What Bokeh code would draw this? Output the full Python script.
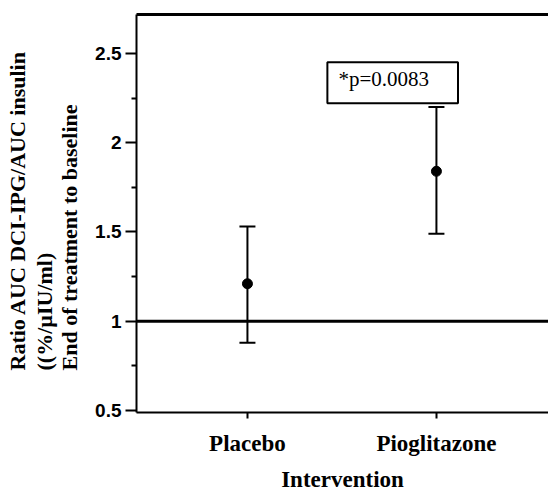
from bokeh.plotting import figure
from bokeh.models import (ColumnDataSource, Whisker, TeeHead, Span, Label, Title,
                          FixedTicker, LinearAxis, Range1d)
from bokeh.embed import file_html
from bokeh.resources import INLINE

# ---- data ----
groups = ["Placebo", "Pioglitazone"]
group_pos = [1, 2]
means = [1.21, 1.84]
lower = [0.88, 1.49]
upper = [1.53, 2.20]
y_ticks = [0.5, 1.0, 1.5, 2.0, 2.5]
y_tick_labels = ["0.5", "1", "1.5", "2", "2.5"]
y_minor = [0.75, 1.25, 1.75, 2.25]
ref_value = 1.0
p_text = "*p=0.0083"
y_title_lines = ["Ratio AUC DCI-IPG/AUC insulin", "((%/\u00b5IU/ml)", "End of treatment to baseline"]
x_title = "Intervention"

src = ColumnDataSource(dict(x=group_pos, mean=means, lo=lower, hi=upper))

p = figure(width=548, height=495, output_backend="svg", toolbar_location=None,
           x_range=Range1d(0.413, 2.593), y_range=Range1d(0.489, 2.718),
           min_border_left=135, min_border_right=0, min_border_top=14, min_border_bottom=83)
p.outline_line_color = None
p.grid.grid_line_color = None
p.background_fill_color = "white"

# x axis
xa = p.xaxis[0]
xa.ticker = FixedTicker(ticks=group_pos)
xa.major_label_overrides = {g: n for g, n in zip(group_pos, groups)}
xa.minor_tick_line_color = None
xa.major_tick_in = 0
xa.major_tick_out = 6
xa.major_tick_line_width = 2
xa.axis_line_width = 2
xa.axis_line_color = "black"
xa.major_tick_line_color = "black"
xa.major_label_text_font = "Liberation Serif"
xa.major_label_text_font_style = "bold"
xa.major_label_text_font_size = "23px"
xa.major_label_text_color = "black"
xa.major_label_standoff = 12
xa.axis_label = x_title
xa.axis_label_text_font = "Liberation Serif"
xa.axis_label_text_font_style = "bold"
xa.axis_label_text_font_size = "23px"
xa.axis_label_text_color = "black"
xa.axis_label_standoff = 8

# y axis
ya = p.yaxis[0]
ya.ticker = FixedTicker(ticks=y_ticks, minor_ticks=y_minor)
ya.major_label_overrides = {t: l for t, l in zip(y_ticks, y_tick_labels)}
ya.major_tick_in = 0
ya.major_tick_out = 11
ya.minor_tick_in = 0
ya.minor_tick_out = 5
ya.major_tick_line_width = 2
ya.minor_tick_line_width = 2
ya.axis_line_width = 2
ya.axis_line_color = "black"
ya.major_tick_line_color = "black"
ya.minor_tick_line_color = "black"
ya.major_label_text_font = "Liberation Sans"
ya.major_label_text_font_style = "bold"
ya.major_label_text_font_size = "19px"
ya.major_label_text_color = "black"
ya.major_label_standoff = 4

# spacer between axis and title lines
p.add_layout(Title(text=" ", text_font_size="1px", standoff=8), "left")
# y-axis title: three left-aligned lines (innermost first)
for line, so in zip(reversed(y_title_lines), [0, -4, 4]):
    p.add_layout(Title(text=line, align="left", offset=42, standoff=so,
                       text_font="Liberation Serif", text_font_style="bold",
                       text_font_size="22px", text_color="black"), "left")

# top border line
top = LinearAxis(ticker=FixedTicker(ticks=[]), axis_line_width=3, axis_line_color="black",
                 major_tick_line_color=None, minor_tick_line_color=None,
                 major_label_text_font_size="0px")
p.add_layout(top, "above")

# reference line
p.add_layout(Span(location=ref_value, dimension="width", line_color="black", line_width=3))

# error bars
wh = Whisker(base="x", lower="lo", upper="hi", source=src, line_color="black", line_width=2,
             lower_head=TeeHead(size=16, line_width=2, line_color="black"),
             upper_head=TeeHead(size=16, line_width=2, line_color="black"))
p.add_layout(wh)
p.scatter("x", "mean", source=src, size=10, color="black")

# p-value box
p.add_layout(Label(x=1.423, y=2.45, text=p_text, text_font="Liberation Serif",
                   text_font_size="21px", text_color="black", anchor="top_left",
                   text_align="left", text_baseline="top",
                   border_line_color="black", border_line_width=2,
                   background_fill_color="white", padding=(11, 29, 5, 12)))

open("out.html", "w").write(file_html(p, INLINE))
